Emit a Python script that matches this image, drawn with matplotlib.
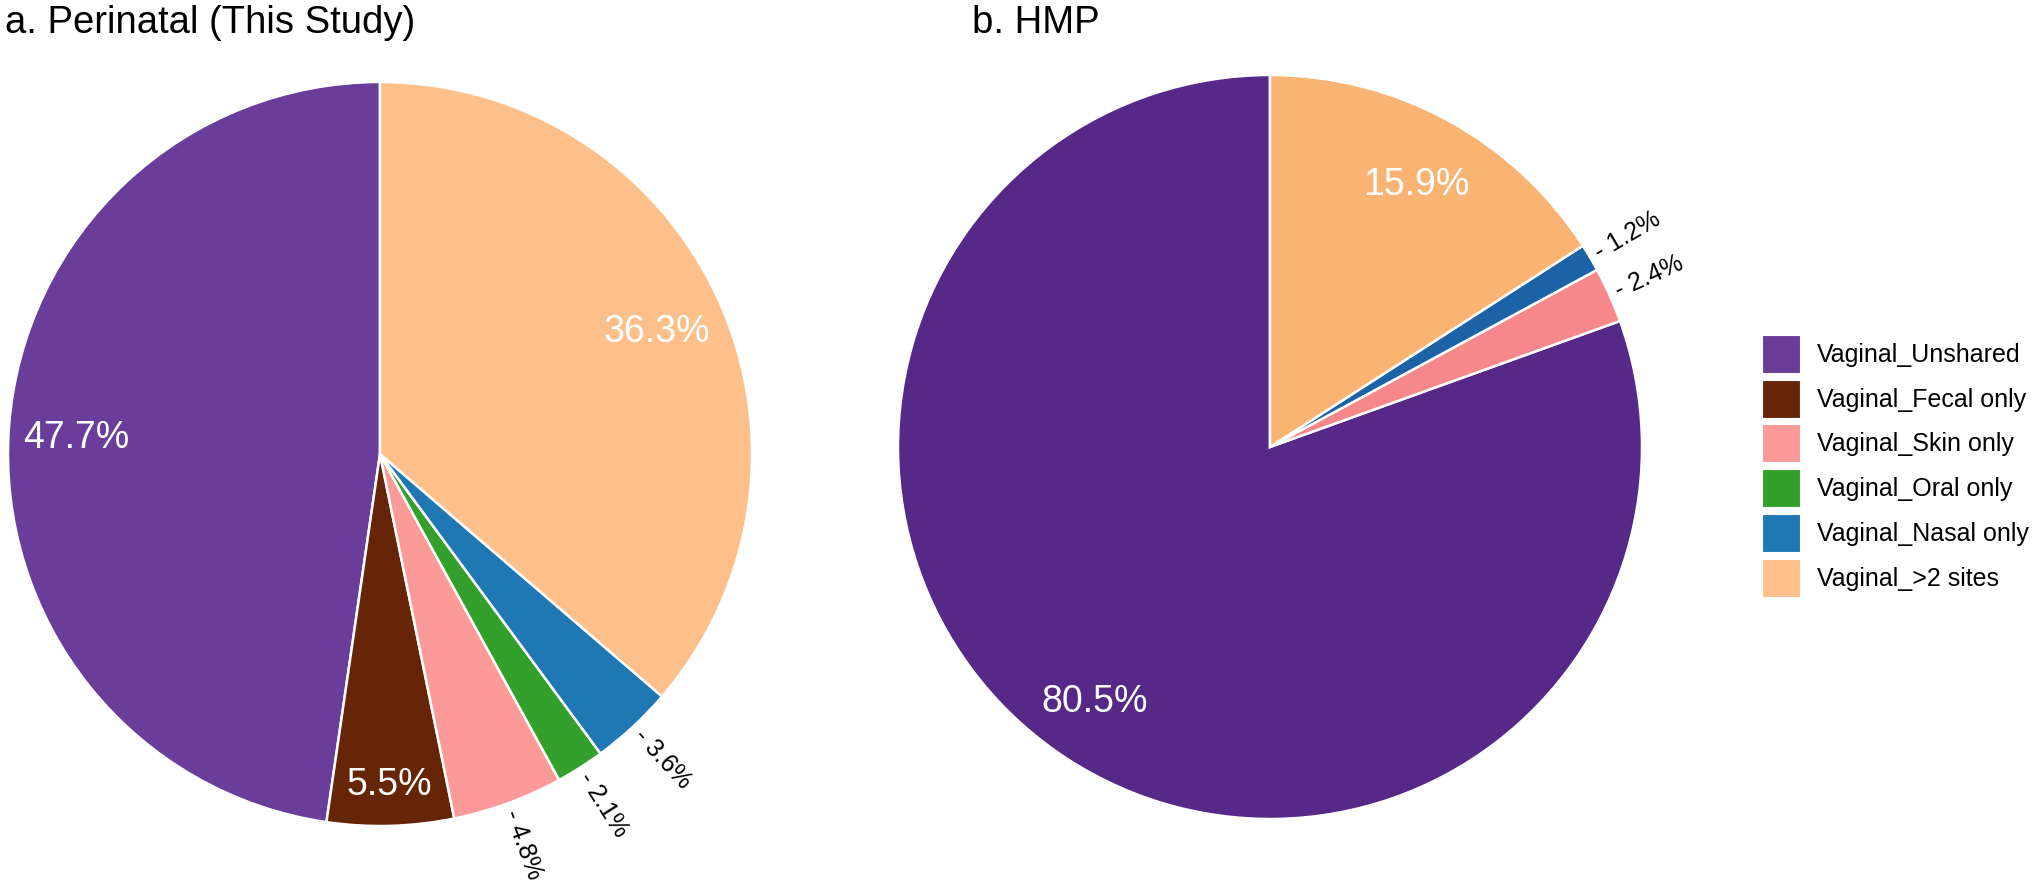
import matplotlib
matplotlib.use("Agg")
import matplotlib.pyplot as plt
import numpy as np

plt.rcParams['font.family'] = ['Liberation Sans', 'DejaVu Sans']

# --- data (legend order) ---
categories = ['Vaginal_Unshared', 'Vaginal_Fecal only', 'Vaginal_Skin only',
              'Vaginal_Oral only', 'Vaginal_Nasal only', 'Vaginal_>2 sites']
perinatal = [47.7, 5.5, 4.8, 2.1, 3.6, 36.3]
hmp = [80.5, 0.0, 2.4, 0.0, 1.2, 15.9]

colors_a = ['#6a3d9a', '#662506', '#fb9a99', '#33a02c', '#1f78b4', '#fdc08a']
colors_b = ['#562888', '#662506', '#f6888b', '#33a02c', '#1b62a6', '#f9b474']

W, H = 2040, 885


def draw_pie(ax, values, colors):
    vals = [v for v in values if v > 0]
    cols = [c for v, c in zip(values, colors) if v > 0]
    wedges, _ = ax.pie(vals, colors=cols, startangle=90, counterclock=True,
                       radius=1.0,
                       wedgeprops=dict(edgecolor='white', linewidth=1.8))
    for w, v in zip(wedges, vals):
        mid = np.deg2rad((w.theta1 + w.theta2) / 2)
        if v >= 5:
            d = 0.82 if v > 10 else 0.875
            ax.text(d * np.cos(mid), d * np.sin(mid) - 0.015, f'{v:.1f}%',
                    ha='center', va='center', color='white', fontsize=27)
        else:
            d = 1.02
            ang = np.rad2deg(mid)
            rot = ang if np.cos(mid) >= 0 else ang - 180
            ax.text(d * np.cos(mid), d * np.sin(mid), f'- {v:.1f}%',
                    ha='left', va='center', rotation=rot,
                    rotation_mode='anchor', color='black', fontsize=18)
    ax.set_xlim(-1, 1)
    ax.set_ylim(-1, 1)
    ax.set_aspect('equal')
    ax.axis('off')
    return wedges


fig = plt.figure(figsize=(W / 100, H / 100), dpi=100)

# left pie: centre (380, 454), radius 372 px
ax1 = fig.add_axes([8 / W, (H - 826) / H, 744 / W, 744 / H])
draw_pie(ax1, perinatal, colors_a)

# right pie: centre (1270, 447), radius 372 px
ax2 = fig.add_axes([898 / W, (H - 819) / H, 744 / W, 744 / H])
draw_pie(ax2, hmp, colors_b)

fig.text(5 / W, 1 - 5 / H, 'a. Perinatal (This Study)', fontsize=27.5,
         ha='left', va='top')
fig.text(972 / W, 1 - 5 / H, 'b. HMP', fontsize=27.5, ha='left', va='top')

handles = [plt.Rectangle((0, 0), 1, 1, facecolor=c, edgecolor='white', linewidth=0.8)
           for c in colors_a]
fig.legend(handles, categories, loc='upper left',
           bbox_to_anchor=(1762 / W, 1 - 335 / H), frameon=False,
           fontsize=18, handlelength=1.52, handleheight=1.96,
           handletextpad=0.68, labelspacing=0.27, borderpad=0, borderaxespad=0)

fig.savefig('out.png', dpi=100)
